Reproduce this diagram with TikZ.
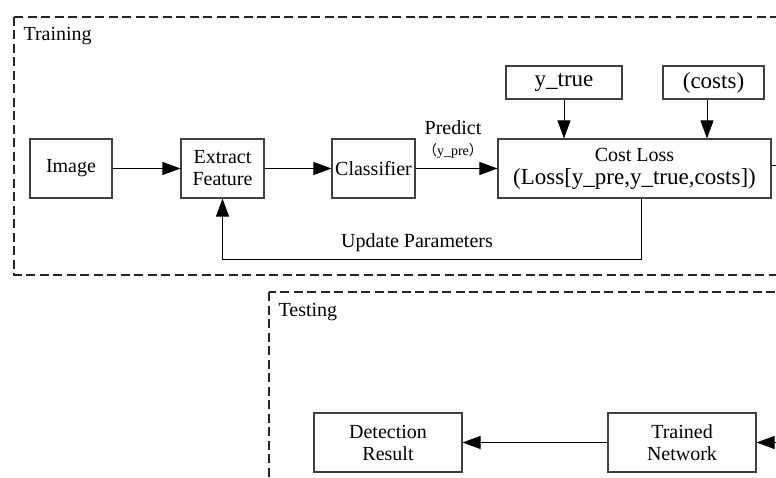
\documentclass[tikz,border=0pt]{standalone}
\usepackage{fontspec}
\setmainfont{Liberation Serif}
\newfontfamily\cjk{Noto Sans CJK SC}
\usetikzlibrary{arrows.meta}
\begin{document}
\begin{tikzpicture}[x=1pt,y=-1pt,
  every node/.style={font=\fontsize{20}{22}\selectfont},
  box/.style={draw=black!75,line width=1.1pt,inner sep=0pt,align=center},
  frame/.style={draw=black!85,line width=1.3pt,dash pattern=on 9pt off 4.5pt},
  conn/.style={draw=black,line width=0.9pt},
  arr/.style={conn,-{Triangle[length=18pt,width=13pt]}},
  big/.style={font=\fontsize{23}{25}\selectfont}]
\clip (0,0) rectangle (776,478);
\fill[white] (0,0) rectangle (776,478);

% training stage
\draw[frame] (14,17) rectangle (800,275);
\node[anchor=west] (trainlbl) at (20,36) {Training};

\node[box,minimum width=82pt,minimum height=59pt] (img) at (71,168.5) {Image};
\node[box,minimum width=83pt,minimum height=59pt] (feat) at (222.5,168.5) {Extract\\Feature};
\node[box,minimum width=83pt,minimum height=59pt] (cls) at (373.5,168.5) {Classifier};
\node[box,minimum width=273pt,minimum height=59pt] (cost) at (634.5,168.5)
  {Cost Loss\\[1pt]{\fontsize{23}{25}\selectfont(Loss[y\_pre,y\_true,costs])}};
\node[box,big,minimum width=116pt,minimum height=33pt] (ytrue) at (564,82.5) {y\_true};
\node[box,big,minimum width=101pt,minimum height=33pt] (costs) at (713.5,82.5) {(costs)};

\node (pred) at (453,128) {Predict};
\node[font=\fontsize{14}{16}\selectfont] (ypre) at (453,151) {{\cjk （}y\_pre{\cjk ）}};
\node (upd) at (417,243) {Update Parameters};

\coordinate (costout) at (800,165);
\coordinate (fbR) at (641,259);
\coordinate (fbL) at (222.5,259);

\draw[arr] (img) -- (feat);
\draw[arr] (feat) -- (cls);
\draw[arr] (cls) -- (cost);
\draw[arr] (ytrue.south) -- (ytrue.south |- cost.north);
\draw[arr] (costs.south -| 707,0) -- (cost.north -| 707,0);
\draw[conn] (cost.east |- costout) -- (costout);
\draw[arr] (cost.south -| fbR) -- (fbR) -- (fbL) -- (feat.south);

% testing stage
\draw[frame] (269,292) rectangle (800,500);
\node[anchor=west] (testlbl) at (275,312) {Testing};

\node[box,minimum width=148pt,minimum height=59pt] (det) at (388,442.5) {Detection\\Result};
\node[box,minimum width=148pt,minimum height=59pt] (net) at (682,442.5) {Trained\\Network};
\coordinate (netin) at (800,442.5);

\draw[arr] (net) -- (det);
\draw[arr] (netin) -- (net);
\end{tikzpicture}
\end{document}
